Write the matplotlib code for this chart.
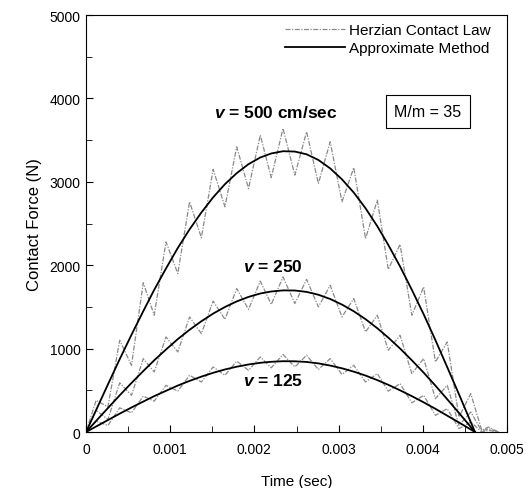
import matplotlib
matplotlib.use("Agg")
import matplotlib.pyplot as plt
from matplotlib.ticker import MultipleLocator
from matplotlib.lines import Line2D

plt.rcParams['font.family'] = ['Liberation Sans', 'DejaVu Sans']
plt.rcParams['mathtext.fontset'] = 'custom'
plt.rcParams['mathtext.bfit'] = 'Liberation Sans:bold:italic'

# time points (sec) at which the Hertzian oscillation peaks/troughs were read
t_herz = [0, 0.00012, 0.00026, 0.0004, 0.00054, 0.00068, 0.00081, 0.00095, 0.00109,
          0.00123, 0.00137, 0.00151, 0.00165, 0.00179, 0.00193, 0.00207, 0.0022,
          0.00234, 0.00248, 0.00262, 0.00276, 0.0029, 0.00304, 0.00318, 0.00332,
          0.00346, 0.00359, 0.00373, 0.00387, 0.00401, 0.00415, 0.00429, 0.00443,
          0.00457, 0.0047, 0.00478, 0.0049]

herz_500 = [0, 380, 300, 1100, 800, 1790, 1400, 2280, 1900, 2760, 2330, 3150, 2700,
            3420, 2920, 3560, 3050, 3640, 3080, 3600, 2980, 3480, 2760, 3170, 2320,
            2780, 1950, 2250, 1400, 1740, 840, 1080, 180, 460, 20, 60, 0]
herz_250 = [0, 260, 150, 590, 440, 880, 720, 1140, 960, 1380, 1180, 1570, 1350,
            1720, 1470, 1810, 1530, 1860, 1540, 1830, 1500, 1760, 1380, 1600, 1200,
            1400, 980, 1160, 700, 880, 400, 560, 80, 240, 10, 40, 0]
herz_125 = [0, 130, 78, 290, 230, 430, 370, 560, 490, 680, 600, 780, 680,
            850, 740, 900, 770, 930, 780, 920, 750, 880, 690, 800, 600,
            700, 490, 580, 350, 440, 200, 280, 40, 120, 0, 20, 0]

# approximate method (smooth) curves
t_appr = [0, 0.00012, 0.00026, 0.0004, 0.00054, 0.00068, 0.00081, 0.00095, 0.00109,
          0.00123, 0.00137, 0.00151, 0.00165, 0.00179, 0.00193, 0.00207, 0.0022,
          0.00234, 0.00248, 0.00262, 0.00276, 0.0029, 0.00304, 0.00318, 0.00332,
          0.00346, 0.00359, 0.00373, 0.00387, 0.00401, 0.00415, 0.00429, 0.00443,
          0.00457, 0.00462]
appr_500 = [0, 263, 570, 873, 1166, 1449, 1705, 1961, 2207, 2430, 2632, 2814, 2972,
            3104, 3212, 3292, 3340, 3367, 3363, 3330, 3262, 3161, 3030, 2871, 2683,
            2467, 2244, 1985, 1705, 1412, 1102, 778, 452, 118, 0]
appr_250 = [0, 133, 287, 440, 588, 731, 860, 989, 1114, 1226, 1328, 1420, 1499,
            1566, 1620, 1661, 1685, 1698, 1697, 1680, 1646, 1595, 1528, 1448, 1353,
            1244, 1132, 1001, 860, 712, 556, 393, 228, 60, 0]
appr_125 = [0, 66, 143, 220, 294, 365, 430, 494, 557, 613, 664, 710, 750,
            783, 810, 830, 842, 849, 848, 840, 823, 797, 764, 724, 677,
            622, 566, 500, 430, 356, 278, 196, 114, 30, 0]

x_ticks = [0, 0.001, 0.002, 0.003, 0.004, 0.005]
x_labels = ['0', '0.001', '0.002', '0.003', '0.004', '0.005']
y_ticks = [0, 1000, 2000, 3000, 4000, 5000]

fig = plt.figure(figsize=(5.29, 4.89), dpi=100)
ax = fig.add_axes([0.1626, 0.1145, 0.7958, 0.8527])

gray = '#8a8a8a'
dash = (4, 1.2, 1, 1.2)
for h in (herz_500, herz_250, herz_125):
    ax.plot(t_herz, h, color=gray, lw=0.9, ls='-.', dashes=dash)
for a in (appr_500, appr_250, appr_125):
    ax.plot(t_appr, a, color='black', lw=1.3)

handles = [Line2D([], [], color=gray, lw=0.9, ls='-.', dashes=dash),
           Line2D([], [], color='black', lw=1.3)]
ax.legend(handles, ['Herzian Contact Law', 'Approximate Method'], loc='upper right',
          frameon=False, fontsize=11, handlelength=3.9, handletextpad=0.25,
          labelspacing=0.25, borderaxespad=0.0, bbox_to_anchor=(0.975, 0.995))

ax.set_xlim(0, 0.005)
ax.set_ylim(0, 5000)
ax.set_xticks(x_ticks)
ax.set_xticklabels(x_labels)
ax.set_yticks(y_ticks)
ax.xaxis.set_minor_locator(MultipleLocator(0.0005))
ax.yaxis.set_minor_locator(MultipleLocator(500))
ax.tick_params(which='both', direction='in', labelsize=10, top=False, right=False)
ax.tick_params(which='major', length=5)
ax.tick_params(which='minor', length=4)
ax.tick_params(axis='x', pad=7)
ax.tick_params(axis='y', pad=4)
for s in ax.spines.values():
    s.set_linewidth(0.8)

ax.set_xlabel('Time (sec)', fontsize=11, labelpad=13)
ax.set_ylabel('Contact Force (N)', fontsize=12, labelpad=5)

ax.text(0.00226, 3840, r'$\mathbfit{v}$ = 500 cm/sec', ha='center', va='center',
        fontsize=12.5, fontweight='bold')
ax.text(0.00222, 1990, r'$\mathbfit{v}$ = 250', ha='center', va='center',
        fontsize=12.5, fontweight='bold')
ax.text(0.00222, 620, r'$\mathbfit{v}$ = 125', ha='center', va='center',
        fontsize=12.5, fontweight='bold')
ax.text(0.00406, 3840, 'M/m = 35', ha='center', va='center', fontsize=11.5,
        bbox=dict(boxstyle='square,pad=0.55', fc='white', ec='black', lw=0.8))

fig.savefig('out.png', dpi=100)
